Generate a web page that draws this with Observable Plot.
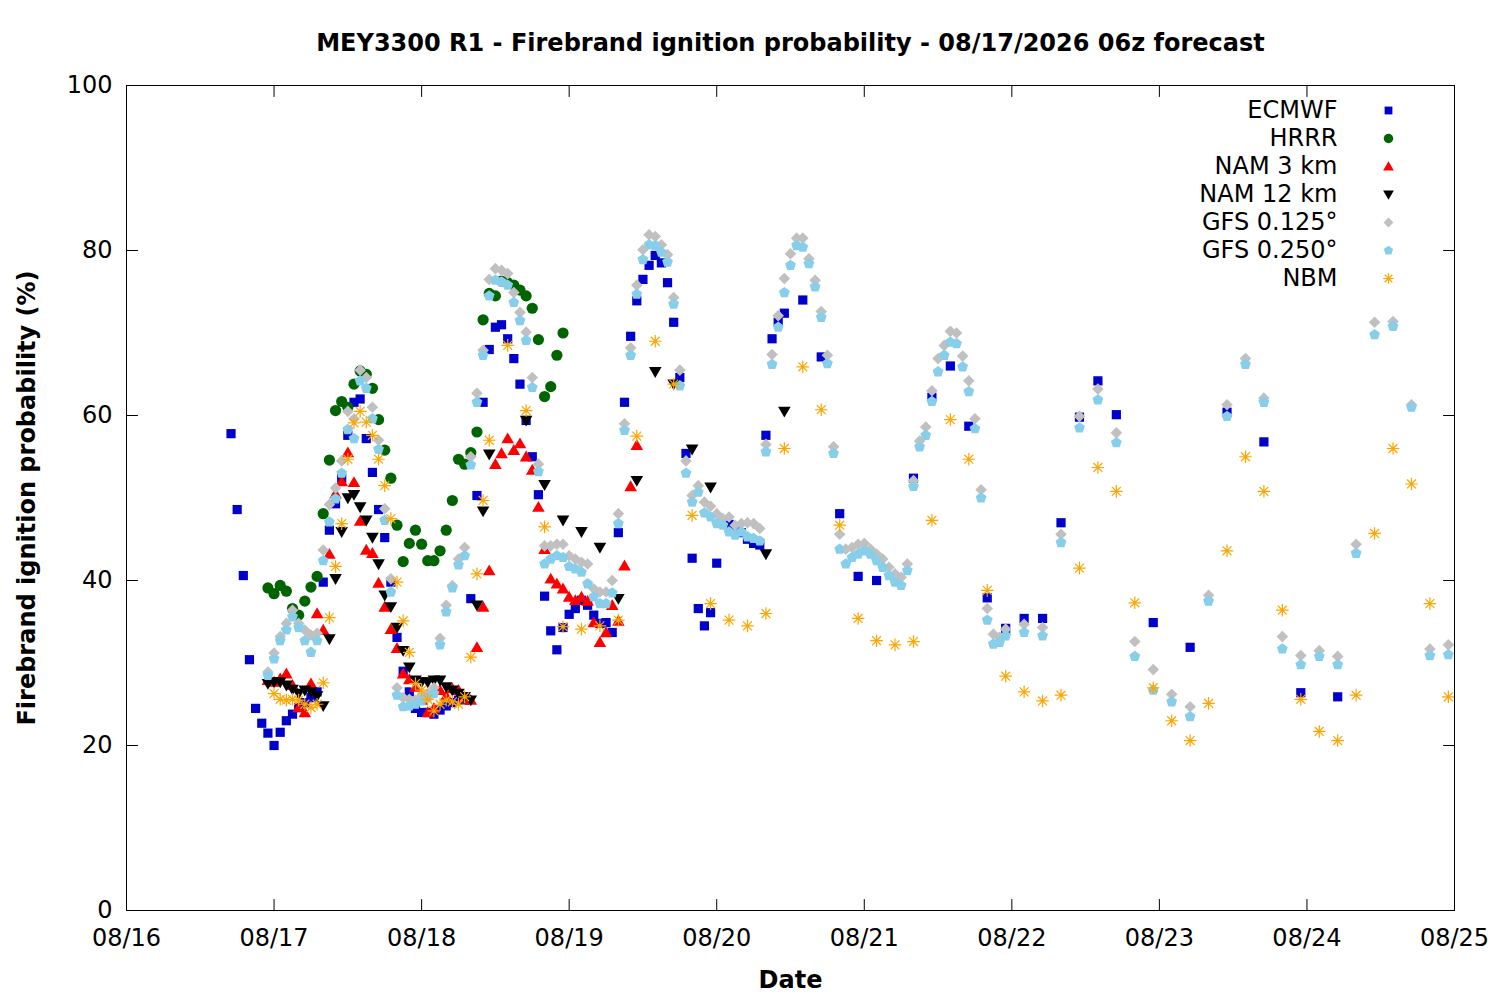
<!DOCTYPE html>
<html><head><meta charset="utf-8">
<script src="https://cdn.jsdelivr.net/npm/d3@7"></script>
<script src="https://cdn.jsdelivr.net/npm/@observablehq/plot@0.6"></script>
<style>
html,body{margin:0;padding:0;background:#fff;}
#chart svg{display:block;}
</style></head><body><div id="chart"></div>
<script>
const titleText = "MEY3300 R1 - Firebrand ignition probability - 08/17/2026 06z forecast";
const xLabel = "Date";
const yLabel = "Firebrand ignition probability (%)";
const xTickLabels = ["08/16","08/17","08/18","08/19","08/20","08/21","08/22","08/23","08/24","08/25"];
const yTicks = [0, 20, 40, 60, 80, 100];
const seriesNames = ["ECMWF","HRRR","NAM 3 km","NAM 12 km","GFS 0.125°","GFS 0.250°","NBM"];
const seriesColors = ["#0000cd","#006400","#ff0000","#000000","#c0c0c0","#87ceeb","#ffa500"];

// [hour since 08/16 00:00, probability %]
const ecmwf = [[17,57.8],[18,48.6],[19,40.6],[20,30.4],[21,24.5],[22,22.7],[23,21.5],[24,20.0],[25,21.6],[26,23.0],
[27,23.8],[28,24.6],[29,25.2],[30,25.8],[31,26.5],[32,39.8],[33,46.1],[34,49.3],[35,52.4],[36,57.6],
[37,61.6],[38,62.0],[39,57.2],[40,53.1],[41,48.6],[42,45.2],[43,39.8],[44,33.1],[45,29.0],[46,26.5],
[47,24.5],[48,24.0],[49,24.0],[50,23.8],[51,24.3],[52,24.8],[53,25.2],[54,25.5],[55,25.5],[56,37.8],
[57,50.3],[58,61.6],[59,68.0],[60,70.7],[61,71.0],[62,69.3],[63,66.9],[64,63.8],[65,59.4],[66,55.0],
[67,50.4],[68,38.1],[69,33.9],[70,31.6],[71,34.3],[72,35.9],[73,36.6],[74,37.6],[75,37.0],[76,35.8],
[77,34.8],[78,34.9],[79,33.7],[80,45.8],[81,61.6],[82,69.6],[83,73.9],[84,76.5],[85,78.2],[86,79.4],
[87,78.5],[88,76.1],[89,71.3],[90,64.6],[91,55.4],[92,42.7],[93,36.6],[94,34.5],[95,36.1],[96,42.1],
[97,47.0],[98,46.8],[99,46.3],[100,45.8],[101,45.0],[102,44.5],[103,44.3],[104,57.6],[105,69.3],[106,71.3],[107,72.4],
[110,74.0],[113,67.1],[116,48.1],[119,40.5],[122,40.0],[128,52.4],[131,62.2],[134,66.0],[137,58.7],[140,37.9],
[143,34.2],[146,35.4],[149,35.4],[152,47.0],[155,59.8],[158,64.2],[161,60.1],[167,34.9],[173,31.9],[179,60.4],
[185,56.8],[191,26.4],[197,25.9]];

const hrrr = [[23,39.1],[24,38.4],[25,39.4],[26,38.7],[27,36.6],[28,35.8],[29,37.5],[30,39.2],[31,40.5],[32,48.1],
[33,54.6],[34,60.6],[35,61.7],[36,61.0],[37,63.8],[38,65.4],[39,65.0],[40,63.3],[41,59.5],[42,55.8],
[43,52.4],[44,46.7],[45,42.3],[46,44.5],[47,46.1],[48,44.4],[49,42.4],[50,42.4],[51,43.6],[52,46.1],
[53,49.7],[54,54.7],[55,54.1],[56,55.5],[57,58.0],[58,71.6],[59,74.8],[60,74.5],[61,76.3],[62,76.1],
[63,75.8],[64,75.2],[65,74.5],[66,73.0],[67,69.2],[68,62.3],[69,63.5],[70,67.3],[71,70.0]];

const nam3 = [[23,27.9],[24,27.7],[25,28.1],[26,28.7],[27,27.3],[28,24.6],[29,24.0],[30,27.5],[31,36.0],[32,34.0],
[33,43.2],[34,50.5],[35,52.0],[36,55.5],[37,51.9],[38,47.2],[39,43.7],[40,43.3],[41,39.7],[42,36.8],
[43,34.1],[44,31.8],[45,28.7],[46,28.0],[47,27.1],[48,25.5],[49,24.0],[50,24.5],[51,26.7],[52,26.0],
[53,26.9],[54,26.7],[55,25.8],[56,25.5],[57,31.9],[58,36.8],[59,41.2],[60,54.1],[61,55.4],[62,57.2],
[63,55.8],[64,56.6],[65,55.0],[66,53.4],[67,48.9],[68,43.8],[69,40.2],[70,39.6],[71,39.0],[72,38.0],
[73,37.6],[74,38.0],[75,37.5],[76,34.9],[77,32.5],[78,33.7],[79,37.0],[80,35.1],[81,41.8],[82,51.4],[83,56.4]];

const nam12 = [[23,27.5],[24,27.7],[25,27.7],[26,27.3],[27,26.8],[28,26.3],[29,26.7],[30,26.5],[31,26.0],[32,24.8],
[33,32.9],[34,40.2],[35,45.9],[36,50.0],[37,50.4],[38,48.9],[39,47.3],[40,45.2],[41,42.0],[42,38.2],
[43,36.8],[44,34.3],[45,31.5],[46,29.5],[47,27.9],[48,27.7],[49,27.7],[50,27.9],[51,27.9],[52,27.1],
[53,26.7],[54,26.3],[55,25.9],[56,25.5],[57,37.0],[58,48.4],[59,55.3],[65,59.4],[68,51.6],[71,47.3],
[74,45.9],[77,44.0],[80,37.8],[83,52.1],[86,65.3],[89,63.8],[92,55.9],[95,51.3],[104,43.2],[107,60.5]];

const gfs0125 = [[23,28.9],[24,31.2],[25,33.2],[26,34.8],[27,36.4],[28,34.8],[29,34.0],[30,33.4],[31,33.6],[32,43.7],
[33,49.2],[34,51.2],[35,54.5],[36,60.5],[37,59.6],[38,65.5],[39,64.6],[40,61.0],[41,57.0],[42,48.7],
[43,40.2],[44,27.0],[45,25.8],[46,25.6],[47,25.5],[48,26.0],[49,26.3],[50,27.0],[51,33.0],[52,37.0],
[53,39.4],[54,42.6],[55,44.0],[56,55.0],[57,62.7],[58,67.9],[59,76.5],[60,77.8],[61,77.6],[62,77.2],
[63,74.9],[64,72.5],[65,70.1],[66,64.6],[67,54.1],[68,44.2],[69,44.2],[70,44.4],[71,44.4],[72,43.0],
[73,42.6],[74,42.2],[75,42.0],[76,39.0],[77,38.6],[78,38.6],[79,40.0],[80,48.1],[81,59.0],[82,68.2],
[83,75.8],[84,80.1],[85,81.9],[86,81.7],[87,80.7],[88,79.5],[89,74.3],[90,65.5],[91,54.5],[92,50.3],
[93,51.5],[94,49.5],[95,49.0],[96,48.1],[97,47.5],[98,47.7],[99,46.7],[100,46.9],[101,47.0],[102,46.9],
[103,46.3],[104,56.5],[105,67.4],[106,72.1],[107,76.6],[108,79.6],[109,81.5],[110,81.5],[111,79.0],[112,76.4],
[113,72.6],[114,67.3],[115,56.2],[116,45.6],[117,43.8],[118,44.0],[119,44.4],[120,44.5],[121,43.8],[122,43.2],
[123,42.6],[124,41.6],[125,40.8],[126,40.4],[127,42.0],[128,52.1],[129,56.9],[130,58.6],[131,63.0],[132,66.9],
[133,68.5],[134,70.2],[135,70.0],[136,67.2],[137,64.2],[138,59.6],[139,51.0],[140,36.6],[141,33.5],[142,33.1],
[143,34.1],[146,34.7],[149,34.3],[152,45.6],[155,59.9],[158,63.2],[161,57.9],[164,32.6],[167,29.2],[170,26.2],
[173,24.7],[176,38.2],[179,61.3],[182,66.9],[185,62.1],[188,33.2],[191,30.9],[194,31.5],[197,30.8],[200,44.4],
[203,71.3],[206,71.4],[209,61.3],[212,31.7],[215,32.2]];

const gfs0250 = [[23,28.5],[24,30.5],[25,32.7],[26,34.0],[27,35.6],[28,34.3],[29,32.7],[30,31.3],[31,32.7],[32,42.4],
[33,47.1],[34,49.9],[35,53.0],[36,58.3],[37,57.2],[38,64.2],[39,63.3],[40,59.6],[41,55.9],[42,47.3],
[43,38.6],[44,26.1],[45,24.7],[46,24.8],[47,25.0],[48,25.4],[49,25.8],[50,26.3],[51,32.2],[52,36.2],
[53,39.1],[54,41.9],[55,43.0],[56,54.0],[57,61.6],[58,67.3],[59,74.5],[60,76.4],[61,76.2],[62,75.8],
[63,73.7],[64,71.5],[65,69.1],[66,63.4],[67,53.2],[68,42.0],[69,42.6],[70,43.0],[71,42.8],[72,41.7],
[73,41.4],[74,41.0],[75,39.6],[76,38.0],[77,37.2],[78,37.2],[79,38.5],[80,46.9],[81,58.2],[82,67.3],
[83,74.7],[84,78.9],[85,80.7],[86,80.6],[87,79.8],[88,78.6],[89,73.5],[90,63.6],[91,53.0],[92,49.5],
[93,50.7],[94,48.2],[95,47.7],[96,46.9],[97,46.7],[98,45.9],[99,45.5],[100,45.9],[101,45.3],[102,45.1],
[103,44.8],[104,55.6],[105,66.2],[106,70.7],[107,74.9],[108,78.2],[109,80.6],[110,80.4],[111,78.4],[112,75.6],
[113,71.9],[114,66.3],[115,55.4],[116,43.8],[117,42.0],[118,42.8],[119,43.2],[120,43.6],[121,43.2],[122,42.4],
[123,41.6],[124,40.6],[125,39.8],[126,39.4],[127,41.2],[128,51.4],[129,56.2],[130,57.6],[131,61.7],[132,65.3],
[133,67.3],[134,68.9],[135,68.7],[136,65.9],[137,62.9],[138,58.4],[139,50.0],[140,35.2],[141,32.3],[142,32.5],
[143,33.3],[146,33.7],[149,33.3],[152,44.6],[155,58.5],[158,61.9],[161,56.7],[164,30.8],[167,26.7],[170,25.3],
[173,23.5],[176,37.5],[179,59.9],[182,66.2],[185,61.6],[188,31.7],[191,29.8],[194,30.8],[197,29.8],[200,43.3],
[203,69.8],[206,70.8],[209,61.0],[212,30.9],[215,31.0]];

const nbm = [[24,26.3],[25,25.6],[26,25.5],[27,25.6],[28,25.5],[29,25.0],[30,24.6],[31,25.0],[32,27.6],[33,35.5],
[34,41.7],[35,46.9],[36,54.7],[37,59.1],[38,60.5],[39,59.2],[40,57.6],[41,54.7],[42,51.5],[43,47.5],
[44,39.8],[45,35.1],[46,31.3],[47,27.5],[48,26.7],[49,25.6],[50,24.2],[51,25.0],[52,25.5],[53,25.3],
[54,25.0],[55,25.9],[56,30.7],[57,40.8],[58,49.7],[59,57.0],[62,68.5],[65,60.6],[68,46.5],[71,34.4],
[74,34.1],[77,34.5],[80,35.2],[83,57.5],[86,69.0],[89,63.8],[92,47.9],[95,37.2],[98,35.2],[101,34.5],
[104,36.0],[107,56.0],[110,65.9],[113,60.7],[116,46.7],[119,35.4],[122,32.7],[125,32.2],[128,32.6],[131,47.3],
[134,59.5],[137,54.7],[140,38.8],[143,28.4],[146,26.5],[149,25.4],[152,26.1],[155,41.5],[158,53.7],[161,50.8],
[164,37.3],[167,27.0],[170,23.0],[173,20.6],[176,25.1],[179,43.6],[182,55.0],[185,50.8],[188,36.4],[191,25.6],
[194,21.7],[197,20.6],[200,26.1],[203,45.7],[206,56.0],[209,51.7],[212,37.2],[215,25.9]];

const base = Date.UTC(2026, 7, 16);
const toDate = h => new Date(base + h * 3600e3);
const xTicks = xTickLabels.map((_, i) => new Date(base + i * 86400e3));

// custom symbols (r recovered from size = PI r^2)
const rad = s => Math.sqrt(s / Math.PI);
const symSquare = {draw(c, s) { const r = rad(s); c.rect(-r, -r, 2 * r, 2 * r); }};
const symCircle = {draw(c, s) { const r = rad(s); c.moveTo(r, 0); c.arc(0, 0, r, 0, 2 * Math.PI); }};
const symTriUp = {draw(c, s) { const r = rad(s); c.moveTo(0, -r * 0.98); c.lineTo(r, r * 0.75); c.lineTo(-r, r * 0.75); c.closePath(); }};
const symTriDown = {draw(c, s) { const r = rad(s); c.moveTo(0, r * 0.98); c.lineTo(r, -r * 0.75); c.lineTo(-r, -r * 0.75); c.closePath(); }};
const symDiamond = {draw(c, s) { const r = rad(s); c.moveTo(0, -r); c.lineTo(r, 0); c.lineTo(0, r); c.lineTo(-r, 0); c.closePath(); }};
const symPentagon = {draw(c, s) { const r = rad(s); for (let k = 0; k < 5; ++k) { const a = -Math.PI / 2 + k * 2 * Math.PI / 5; const px = r * Math.cos(a), py = r * Math.sin(a); if (k) c.lineTo(px, py); else c.moveTo(px, py); } c.closePath(); }};
const symAsterisk = {draw(c, s) { const r = rad(s); const d = r * Math.SQRT1_2; c.moveTo(-r, 0); c.lineTo(r, 0); c.moveTo(0, -r); c.lineTo(0, r); c.moveTo(-d, -d); c.lineTo(d, d); c.moveTo(-d, d); c.lineTo(d, -d); }};

const seriesData = [ecmwf, hrrr, nam3, nam12, gfs0125, gfs0250, nbm];
const seriesSymbols = [symSquare, symCircle, symTriUp, symTriDown, symDiamond, symPentagon, symAsterisk];
const seriesR = [4.6, 5.6, 6.3, 6.3, 5.8, 5.7, 6.3];

const tickShape = {draw(c, l) { c.moveTo(0, 0); c.lineTo(0, -l); }};

const dataMarks = seriesData.map((arr, i) => {
  const isStar = i === 6;
  return Plot.dot(arr, {
    x: d => toDate(d[0]), y: d => d[1],
    symbol: seriesSymbols[i], r: seriesR[i],
    fill: isStar ? "none" : seriesColors[i],
    stroke: isStar ? seriesColors[i] : "none",
    strokeWidth: isStar ? 1.2 : 0
  });
});

const legendMarks = seriesNames.flatMap((name, i) => {
  const isStar = i === 6;
  return [
    Plot.text([name], {frameAnchor: "top-right", dx: -117, dy: 25 + 28 * i, text: d => d, textAnchor: "end", lineAnchor: "middle", fontSize: 24, fill: "black"}),
    Plot.dot([name], {frameAnchor: "top-right", dx: -66, dy: 25 + 28 * i, symbol: seriesSymbols[i], r: seriesR[i] * 0.85,
      fill: isStar ? "none" : seriesColors[i], stroke: isStar ? seriesColors[i] : "none", strokeWidth: isStar ? 1.2 : 0})
  ];
});

const chart = Plot.plot({
  width: 1500,
  height: 1000,
  marginLeft: 126,
  marginRight: 46,
  marginTop: 85,
  marginBottom: 90,
  style: {fontFamily: "DejaVu Sans", fontSize: "24px", color: "black", background: "white"},
  x: {type: "utc", domain: [toDate(0), toDate(216)]},
  y: {domain: [0, 100]},
  marks: [
    ...dataMarks,
    Plot.frame({stroke: "black", strokeWidth: 1}),
    Plot.axisY(yTicks, {anchor: "left", tickSize: 0, tickPadding: 14, label: null, fontSize: 24}),
    Plot.axisX(xTicks, {anchor: "bottom", tickSize: 0, tickPadding: 18, label: null, fontSize: 24,
      tickFormat: d => xTickLabels[Math.round((d - base) / 86400e3)]}),
    Plot.vector(yTicks, {y: d => d, frameAnchor: "left", rotate: 90, length: 11, anchor: "start", shape: tickShape, stroke: "black", strokeWidth: 1}),
    Plot.vector(yTicks, {y: d => d, frameAnchor: "right", rotate: 270, length: 11, anchor: "start", shape: tickShape, stroke: "black", strokeWidth: 1}),
    Plot.vector(xTicks, {x: d => d, frameAnchor: "bottom", rotate: 0, length: 11, anchor: "start", shape: tickShape, stroke: "black", strokeWidth: 1}),
    Plot.vector(xTicks, {x: d => d, frameAnchor: "top", rotate: 180, length: 11, anchor: "start", shape: tickShape, stroke: "black", strokeWidth: 1}),
    ...legendMarks,
    Plot.text([titleText], {frameAnchor: "top", dy: -42, text: d => d, lineAnchor: "middle", fontWeight: "bold", fontSize: 24, fill: "black"}),
    Plot.text([xLabel], {frameAnchor: "bottom", dy: 70, text: d => d, lineAnchor: "middle", fontWeight: "bold", fontSize: 24, fill: "black"}),
    Plot.text([yLabel], {frameAnchor: "left", dx: -99, rotate: -90, text: d => d, textAnchor: "middle", lineAnchor: "middle", fontWeight: "bold", fontSize: 24, fill: "black"})
  ]
});
document.getElementById("chart").appendChild(chart);
</script></body></html>
